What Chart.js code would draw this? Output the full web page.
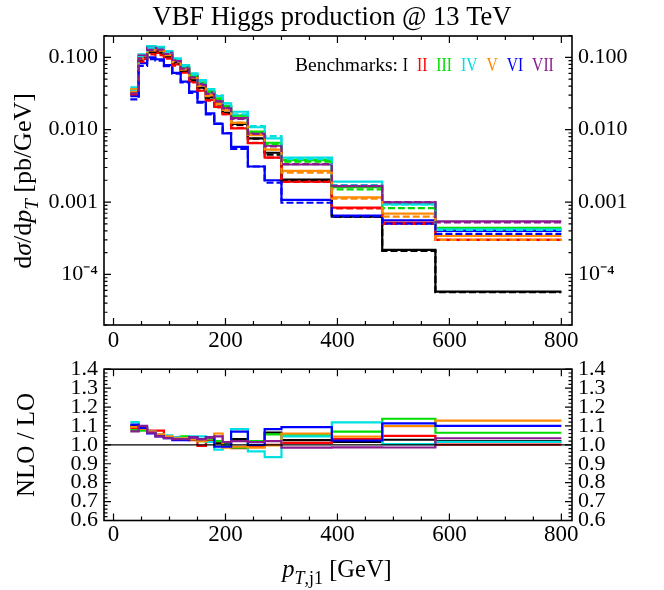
<!DOCTYPE html>
<html><head><meta charset="utf-8">
<script src="https://cdn.jsdelivr.net/npm/chart.js@4.4.1/dist/chart.umd.min.js"></script>
<style>
html,body{margin:0;padding:0;background:#fff;}
#wrap{position:relative;width:664px;height:590px;overflow:hidden;}
canvas{position:absolute;left:0;}
#c1{top:0;} #c2{top:350px;}
</style></head><body>
<div id="wrap">
<canvas id="c1" width="664" height="350" style="width:664px;height:350px"></canvas>
<canvas id="c2" width="664" height="240" style="width:664px;height:240px"></canvas>
</div>
<script>
// ---------------- DATA ----------------
const binEdges = [30,45,60,75,90,105,120,135,150,165,180,195,210,240,270,300,390,480,575,800];
const benchmarks = ['I','II','III','IV','V','VI','VII'];

// NLO (solid) distributions dσ/dpT [pb/GeV]
const nloI   = [0.0345,0.100,0.125,0.123,0.106,0.085,0.067,0.050,0.038,0.028,0.0225,0.0172,0.0120,0.0076,0.0048,0.00204,0.00063,0.000218,0.0000578];
const nloII  = [0.0335,0.094,0.118,0.115,0.100,0.080,0.063,0.046,0.0345,0.0257,0.0207,0.0164,0.0104,0.0065,0.0041,0.00192,0.00084,0.00052,0.00030];
const nloIII = [0.036,0.108,0.140,0.137,0.118,0.094,0.075,0.057,0.045,0.034,0.027,0.0212,0.0156,0.0094,0.0066,0.0038,0.00161,0.00094,0.00044];
const nloIV  = [0.0385,0.110,0.143,0.140,0.122,0.097,0.078,0.060,0.0485,0.0364,0.0292,0.0231,0.0177,0.0108,0.0076,0.0041,0.00191,0.00093,0.00042];
const nloV   = [0.0365,0.104,0.133,0.130,0.112,0.089,0.070,0.053,0.041,0.030,0.024,0.0185,0.0124,0.0084,0.0053,0.0027,0.00116,0.00069,0.00034];
const nloVI  = [0.029,0.083,0.100,0.094,0.078,0.061,0.046,0.0335,0.0243,0.0168,0.0120,0.0089,0.0058,0.0031,0.0020,0.00107,0.00065,0.00056,0.00040];
const nloVII = [0.034,0.106,0.135,0.133,0.115,0.091,0.072,0.055,0.043,0.0325,0.0255,0.020,0.0144,0.0089,0.0060,0.0033,0.00166,0.00099,0.00054];

// LO (dashed) distributions
const loI   = [0.0314,0.0922,0.1170,0.1171,0.1019,0.0821,0.0650,0.0485,0.0371,0.0272,0.0223,0.0170,0.01165,0.00749,0.00451,0.00199,0.000621,0.000212,0.0000567];
const loII  = [0.0307,0.0870,0.1098,0.1070,0.0962,0.0769,0.0612,0.0449,0.0347,0.0252,0.0203,0.0164,0.0106,0.00657,0.0041,0.00190,0.000816,0.000497,0.000300];
const loIII = [0.0334,0.1005,0.1315,0.1305,0.1135,0.0908,0.0718,0.0553,0.0441,0.0330,0.0265,0.0212,0.0158,0.00922,0.00626,0.00362,0.00150,0.000826,0.000414];
const loIV  = [0.0344,0.1009,0.1336,0.1327,0.1162,0.0933,0.0757,0.0574,0.0464,0.0359,0.0299,0.0231,0.0163,0.0112,0.00813,0.00392,0.00171,0.000926,0.000413];
const loV   = [0.0333,0.0959,0.1243,0.1232,0.1072,0.0860,0.0676,0.0515,0.0402,0.0290,0.0226,0.0188,0.01253,0.00853,0.00532,0.00255,0.00111,0.000628,0.000301];
const loVI  = [0.0262,0.0761,0.0943,0.0900,0.0754,0.0595,0.0449,0.0322,0.0236,0.0162,0.0121,0.0090,0.00542,0.0031,0.00185,0.000978,0.000635,0.000503,0.000364];
const loVII = [0.0317,0.0964,0.1268,0.1273,0.1111,0.0883,0.0699,0.0529,0.0417,0.0313,0.0244,0.0197,0.0141,0.00877,0.00588,0.00335,0.00168,0.00100,0.000522];

// NLO / LO ratios
const ratioI   = [1.100,1.085,1.068,1.050,1.040,1.035,1.030,1.030,1.025,1.030,1.010,1.010,1.030,1.015,1.065,1.025,1.015,1.027,1.020];
const ratioII  = [1.090,1.080,1.075,1.075,1.040,1.040,1.030,1.025,0.995,1.020,1.020,1.000,0.982,0.990,1.000,1.010,1.030,1.047,1.001];
const ratioIII = [1.078,1.075,1.065,1.050,1.040,1.035,1.045,1.030,1.020,1.030,1.020,1.000,0.985,1.020,1.055,1.050,1.070,1.138,1.064];
const ratioIV  = [1.120,1.090,1.070,1.055,1.050,1.040,1.030,1.045,1.045,1.015,0.975,1.000,1.083,0.965,0.935,1.045,1.119,1.004,1.016];
const ratioV   = [1.095,1.085,1.070,1.055,1.045,1.035,1.035,1.030,1.020,1.035,1.060,0.985,0.990,0.985,0.997,1.060,1.044,1.099,1.128];
const ratioVI  = [1.107,1.090,1.060,1.045,1.035,1.025,1.025,1.040,1.030,1.040,0.990,0.990,1.070,1.000,1.083,1.094,1.023,1.114,1.100];
const ratioVII = [1.071,1.100,1.065,1.045,1.035,1.030,1.030,1.040,1.030,1.040,1.045,1.015,1.020,1.015,1.020,0.985,0.987,0.986,1.035];

// Tick labels
const xTickValues = [0,200,400,600,800];
const xTickLabels = ['0','200','400','600','800'];
const yTickValues = [1e-4,1e-3,1e-2,1e-1];
const yTickLabels = ['10\u207B\u2074','0.001','0.010','0.100'];
const ratioTickValues = [0.6,0.7,0.8,0.9,1.0,1.1,1.2,1.3,1.4];
const ratioTickLabels = ['0.6','0.7','0.8','0.9','1.0','1.1','1.2','1.3','1.4'];

// ---------------- STYLE ----------------
const colors = ['#000000','#ff0000','#00dd00','#00e0e0','#ff8a00','#0000ff','#8b1a8f'];
const FF = "'Liberation Serif','Times New Roman',serif";
const nlo = [nloI,nloII,nloIII,nloIV,nloV,nloVI,nloVII];
const lo = [loI,loII,loIII,loIV,loV,loVI,loVII];
const ratio = [ratioI,ratioII,ratioIII,ratioIV,ratioV,ratioVI,ratioVII];

function steps(values){
  const pts = values.map((v,i)=>({x:binEdges[i], y:v}));
  pts.push({x:binEdges[values.length], y:values[values.length-1]});
  return pts;
}
function line(values, color, dashed){
  return {data:steps(values), borderColor:color, backgroundColor:color, borderWidth:2.2,
    stepped:'before', pointRadius:0, fill:false, borderDash: dashed?[7,3]:[], tension:0};
}

// Chart.js paints dataset 0 last (on top): later benchmarks placed first so they sit on top
const drawOrder = [6,5,4,3,2,1,0];
const topSets = [];
drawOrder.forEach(k=>{ topSets.push(line(lo[k], colors[k], true)); });
drawOrder.forEach(k=>{ topSets.push(line(nlo[k], colors[k], false)); });
const botSets = drawOrder.map(k=>line(ratio[k], colors[k], false));

function fontStr(p,size){
  const s = p.sub ? Math.round(size*0.72) : size;
  return (p.italic?'italic ':'') + s + 'px ' + FF;
}
function drawRich(ctx, parts, x, y, size){
  let w = 0;
  parts.forEach(p=>{ ctx.font = fontStr(p,size); w += ctx.measureText(p.t).width; });
  let cx = x - w/2;
  ctx.textAlign = 'left'; ctx.textBaseline = 'alphabetic';
  parts.forEach(p=>{
    ctx.font = fontStr(p,size);
    ctx.fillText(p.t, cx, y + (p.sub ? size*0.28 : 0));
    cx += ctx.measureText(p.t).width;
  });
}

// frame + inward ticks plugin
const frameTicks = {
  id:'frameTicks',
  afterDatasetsDraw(chart, args, opts){
    const ctx = chart.ctx, a = chart.chartArea;
    const xs = chart.scales.x, ys = chart.scales.y;
    ctx.save();
    if (opts.refLine !== undefined){
      const py = ys.getPixelForValue(opts.refLine);
      ctx.strokeStyle = '#000'; ctx.lineWidth = 1.2;
      ctx.beginPath(); ctx.moveTo(a.left, py); ctx.lineTo(a.right, py); ctx.stroke();
    }
    ctx.strokeStyle = '#000'; ctx.lineWidth = 1.6;
    ctx.strokeRect(a.left, a.top, a.right-a.left, a.bottom-a.top);
    ctx.lineWidth = 1.2;
    ctx.beginPath();
    const drawX = (v,len)=>{
      const px = xs.getPixelForValue(v);
      if (px < a.left || px > a.right) return;
      ctx.moveTo(px, a.bottom); ctx.lineTo(px, a.bottom-len);
      ctx.moveTo(px, a.top); ctx.lineTo(px, a.top+len);
    };
    const drawY = (v,len)=>{
      const py = ys.getPixelForValue(v);
      if (py < a.top-0.5 || py > a.bottom+0.5) return;
      ctx.moveTo(a.left, py); ctx.lineTo(a.left+len, py);
      ctx.moveTo(a.right, py); ctx.lineTo(a.right-len, py);
    };
    opts.xMinor.forEach(v=>drawX(v,4));
    opts.xMajor.forEach(v=>drawX(v,7));
    opts.yMinor.forEach(v=>drawY(v,3.5));
    opts.yMajor.forEach(v=>drawY(v,7));
    ctx.stroke();
    ctx.restore();
  }
};

const xMinorTicks = [];
for (let v=0; v<=800; v+=50) xMinorTicks.push(v);
const logMinorTicks = [];
for (let k=-5;k<=-1;k++) for (let m=2;m<=9;m++) logMinorTicks.push(m*Math.pow(10,k));
const ratioMinorTicks = [];
for (let i=30;i<=70;i++) ratioMinorTicks.push(i/50);

function xScale(height, pad){
  return {type:'linear', min:-17, max:819, position:'bottom',
    afterBuildTicks:s=>{ s.ticks = xTickValues.map(v=>({value:v})); },
    ticks:{callback:(v,i)=>xTickLabels[i], font:{family:FF,size:23}, color:'#000', padding:pad, maxRotation:0, autoSkip:false},
    grid:{display:false, drawTicks:false}, border:{display:false},
    afterFit:s=>{ s.height = height; }};
}
function yScale(type, min, max, pos, width, vals, labels){
  return {type, min, max, position:pos,
    afterBuildTicks:s=>{ s.ticks = vals.map(v=>({value:v})); },
    ticks:{callback:(v,i)=>labels[i], font:{family:FF,size:22}, color:'#000', padding:6, autoSkip:false},
    grid:{display:false, drawTicks:false}, border:{display:false},
    afterFit:s=>{ s.width = width; }};
}

const topText = {
  id:'topText',
  afterDraw(chart){
    const ctx = chart.ctx;
    ctx.save();
    ctx.fillStyle = '#000';
    ctx.font = '26.5px ' + FF; ctx.textAlign = 'center'; ctx.textBaseline = 'alphabetic';
    ctx.fillText('VBF Higgs production @ 13 TeV', 332, 25);
    // legend
    ctx.font = '19.5px ' + FF; ctx.textAlign = 'left';
    let x = 295;
    ctx.fillStyle = '#000';
    ctx.fillText('Benchmarks: ', x, 71);
    x += ctx.measureText('Benchmarks: ').width;
    const sx = 0.8;
    benchmarks.forEach((b,k)=>{
      ctx.fillStyle = colors[k];
      ctx.save();
      ctx.translate(x, 71); ctx.scale(sx, 1);
      ctx.fillText(b, 0, 0);
      ctx.restore();
      x += ctx.measureText(b).width*sx + 9;
    });
    // y title
    ctx.fillStyle = '#000';
    ctx.translate(31, 181); ctx.rotate(-Math.PI/2);
    drawRich(ctx, [{t:'d'},{t:'\u03C3',italic:true},{t:'/d'},{t:'p',italic:true},{t:'T',italic:true,sub:true},{t:' [pb/GeV]'}], 0, 0, 26);
    ctx.restore();
  }
};
const botText = {
  id:'botText',
  afterDraw(chart){
    const ctx = chart.ctx;
    ctx.save();
    ctx.fillStyle = '#000';
    drawRich(ctx, [{t:'p',italic:true},{t:'T',italic:true,sub:true},{t:',j1',sub:true},{t:' [GeV]'}], 337, 227, 24.5);
    ctx.translate(34, 95); ctx.rotate(-Math.PI/2);
    drawRich(ctx, [{t:'NLO / LO'}], 0, 0, 25);
    ctx.restore();
  }
};

Chart.defaults.font.family = FF;
new Chart(document.getElementById('c1'), {
  type:'line',
  data:{datasets: topSets},
  options:{responsive:false, animation:false, devicePixelRatio:1,
    layout:{padding:{top:36,left:0,right:0,bottom:0}},
    plugins:{legend:{display:false}, tooltip:{enabled:false},
      frameTicks:{xMajor:xTickValues, xMinor:xMinorTicks, yMajor:yTickValues, yMinor:logMinorTicks}},
    scales:{
      x: xScale(25, 2),
      y: yScale('logarithmic', 2e-5, 0.197, 'left', 104, yTickValues, yTickLabels),
      y2: yScale('logarithmic', 2e-5, 0.197, 'right', 92, yTickValues, yTickLabels)
    }},
  plugins:[frameTicks, topText]
});
new Chart(document.getElementById('c2'), {
  type:'line',
  data:{datasets: botSets},
  options:{responsive:false, animation:false, devicePixelRatio:1,
    layout:{padding:{top:15,left:0,right:0,bottom:0}},
    plugins:{legend:{display:false}, tooltip:{enabled:false},
      frameTicks:{xMajor:xTickValues, xMinor:xMinorTicks, yMajor:ratioTickValues, yMinor:ratioMinorTicks, refLine:1.0}},
    scales:{
      x: xScale(69.5, 1),
      y: yScale('linear', 0.6, 1.4, 'left', 104, ratioTickValues, ratioTickLabels),
      y2: yScale('linear', 0.6, 1.4, 'right', 92, ratioTickValues, ratioTickLabels)
    }},
  plugins:[frameTicks, botText]
});
</script>
</body></html>
